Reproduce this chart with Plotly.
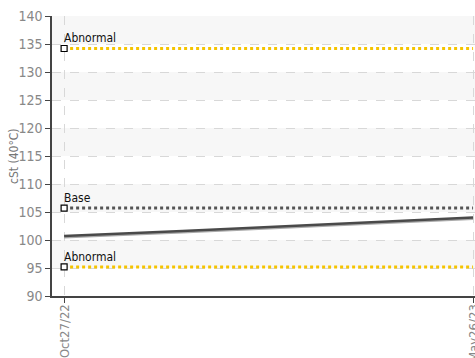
import plotly.graph_objects as go

# Measured viscosity readings (cSt at 40°C)
dates = ["2022-10-27", "2022-11-27", "2022-12-27", "2023-01-27", "2023-02-27",
         "2023-03-27", "2023-04-27", "2023-05-26"]
values = [100.7, 101.1, 101.6, 102.1, 102.6, 103.0, 103.5, 104.0]

# Reference limits
limit_names = ["Abnormal", "Base", "Abnormal"]
limit_values = [134.2, 105.7, 95.2]
limit_colors = ["#f5c400", "#555555", "#f5c400"]

tick_dates = ["2022-10-27", "2023-05-26"]
tick_text = ["Oct27/22", "May26/23"]

y_title = "cSt (40°C)"
y_min, y_max, y_step = 90, 140, 5
font_family = "DejaVu Sans Condensed, Liberation Sans Narrow, sans-serif"

fig = go.Figure()

# alternating horizontal bands
for lo in range(y_min + 5, y_max, 2 * y_step):
    fig.add_shape(type="rect", xref="paper", yref="y", x0=0, x1=1, y0=lo, y1=lo + y_step,
                  fillcolor="#f7f7f7", line_width=0, layer="below")

# reference lines with a marker and label at their start
for name, val, col in zip(limit_names, limit_values, limit_colors):
    fig.add_trace(go.Scatter(x=[dates[0], dates[-1]], y=[val, val], mode="lines",
                             line=dict(color=col, width=3, dash="dot"),
                             showlegend=False, hoverinfo="skip"))
    fig.add_trace(go.Scatter(x=[dates[0]], y=[val], mode="markers",
                             marker=dict(symbol="square", size=6, color="white",
                                         line=dict(color="black", width=1.2)),
                             showlegend=False, hoverinfo="skip"))
    fig.add_annotation(x=dates[0], y=val, text=name, showarrow=False,
                       xanchor="left", yanchor="bottom", xshift=-2, yshift=1,
                       font=dict(color="#111", size=12, family=font_family))

# soft shadow under the trend line
fig.add_trace(go.Scatter(x=dates, y=[v - 0.25 for v in values], mode="lines",
                         line=dict(color="#aaaaaa", width=2), showlegend=False))
fig.add_trace(go.Scatter(x=dates, y=values, mode="lines",
                         line=dict(color="#4a4a4a", width=2.5), showlegend=False))

# date labels drawn as annotations so the edge label is kept
for d, t in zip(tick_dates, tick_text):
    fig.add_annotation(x=d, y=0, xref="x", yref="paper", text=t, showarrow=False,
                       textangle=-90, xanchor="center", yanchor="top", yshift=-6,
                       font=dict(size=13, color="#888", family=font_family))

# y-axis title
fig.add_annotation(x=0, y=0.5, xref="paper", yref="paper", text=y_title,
                   showarrow=False, textangle=-90, xanchor="center", yanchor="middle",
                   xshift=-38, font=dict(size=12, color="#777", family=font_family))

fig.update_layout(
    width=475, height=358,
    margin=dict(l=52, r=0, t=16, b=62),
    paper_bgcolor="white", plot_bgcolor="white",
    font=dict(family=font_family, color="#888"),
    showlegend=False,
)
fig.update_xaxes(
    type="date",
    range=["2022-10-20 18:00", "2023-05-27"],
    tickvals=tick_dates, ticktext=["", ""],
    showgrid=True, gridcolor="#d8d8d8", griddash="dash", gridwidth=1,
    showline=True, linecolor="#444", linewidth=1.5,
    ticks="outside", ticklen=5, tickcolor="#444",
    zeroline=False,
)
fig.update_yaxes(
    range=[y_min, y_max], dtick=y_step,
    tickfont=dict(size=14, color="#888"),
    showgrid=True, gridcolor="#d8d8d8", griddash="dash", gridwidth=1,
    showline=True, linecolor="#444", linewidth=1.5,
    ticks="outside", ticklen=5, tickcolor="#444",
    zeroline=False,
)

fig.write_html("out.html")
